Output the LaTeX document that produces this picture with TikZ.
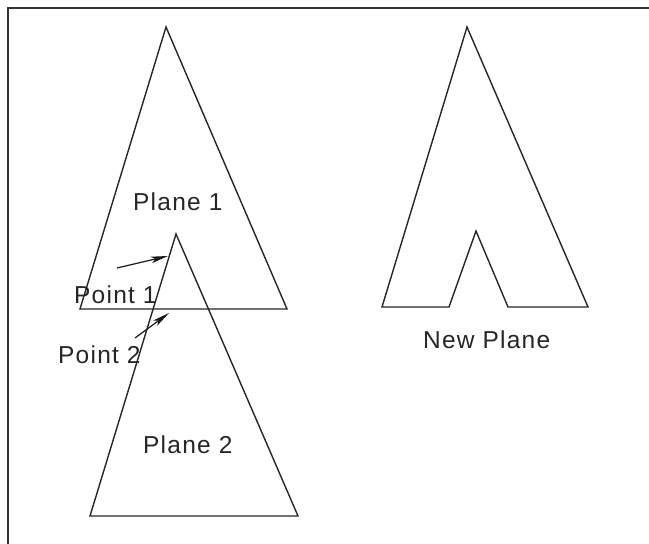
\documentclass[tikz,border=0pt]{standalone}
\usepackage{fontspec}
\setmainfont[LetterSpace=5]{Liberation Sans}
\usetikzlibrary{arrows.meta}
\tikzset{
  edge/.style={line width=1.4pt, draw=black!85, line join=miter},
  lbl/.style={inner sep=0pt, anchor=base west, font=\fontsize{24.5}{28}\selectfont, text=black!85},
  ptr/.style={line width=1.2pt, draw=black!90, -{Stealth[length=17pt,width=6.5pt,inset=4pt]}},
  frame/.style={line width=2pt, draw=black!80}
}
\begin{document}
\begin{tikzpicture}[x=1pt,y=-1pt]
\useasboundingbox (0,0) rectangle (649,544);
% frame
\draw[frame] (649,8) -- (8,8) -- (8,544);
% Plane 1
\coordinate (p1a) at (166,27);
\coordinate (p1l) at (80,309);
\coordinate (p1r) at (287,309);
\draw[edge] (p1l) -- (p1a) -- (p1r) -- cycle;
% Plane 2
\coordinate (p2a) at (176,234);
\coordinate (p2l) at (90,516);
\coordinate (p2r) at (298,516);
\draw[edge] (p2l) -- (p2a) -- (p2r) -- cycle;
% New Plane
\coordinate (na) at (467,27);
\coordinate (nl) at (382,307);
\coordinate (nil) at (449,307);
\coordinate (nia) at (476,231);
\coordinate (nir) at (508,307);
\coordinate (nr) at (588,307);
\draw[edge] (nl) -- (na) -- (nr) -- (nir) -- (nia) -- (nil) -- cycle;
% labels
\node[lbl] (t1) at (133,210) {Plane 1};
\node[lbl] (t2) at (74,303) {Point 1};
\node[lbl] (t3) at (58,363) {Point 2};
\node[lbl] (t4) at (143,453) {Plane 2};
\node[lbl] (t5) at (423,348) {New Plane};
% pointers
\coordinate (a1s) at (117,268);
\coordinate (a1e) at (168,256);
\coordinate (a2s) at (135,338);
\coordinate (a2e) at (169,313);
\draw[ptr] (a1s) -- (a1e);
\draw[ptr] (a2s) -- (a2e);
\end{tikzpicture}
\end{document}
